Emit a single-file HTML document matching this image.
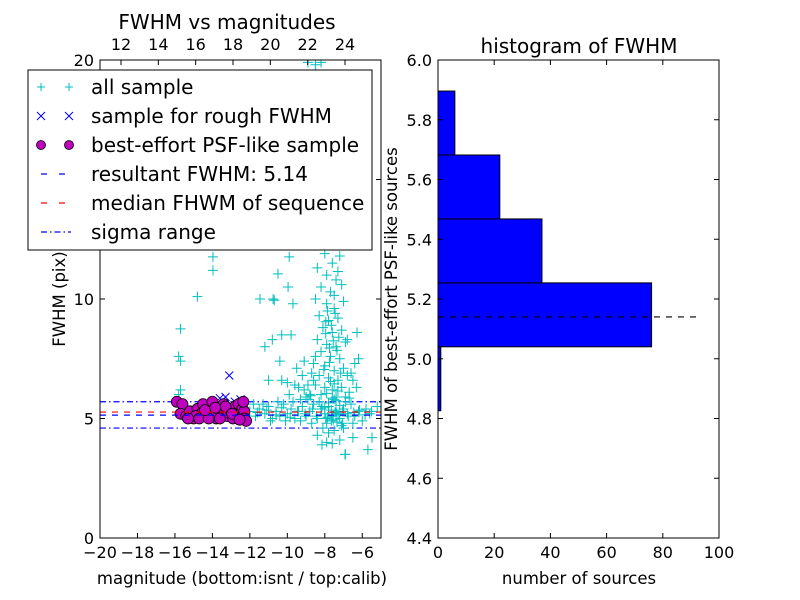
<!DOCTYPE html>
<html><head><meta charset="utf-8">
<style>
html,body{margin:0;padding:0;background:#fff;}
svg{display:block;font-family:"DejaVu Sans","Liberation Sans",sans-serif;}
</style></head>
<body>
<svg id="chart" width="800" height="600" viewBox="0 0 800 600" xmlns="http://www.w3.org/2000/svg">
<rect x="0" y="0" width="800" height="600" fill="#fff"/>
<g id="left"></g>
<g id="right"></g>
</svg>
<script>
// ---- scatter data ----
const cyanX = [-13.97,-13.97,-14.8,-15.7,-15.8,-15.7,-15.7,-15.8,
 -11.46,-10.76,-10.7,-9.9,-10.5,-9.96,-9.7,-11.2,-10.8,-10.3,-9.8,-11.0,-10.4,-10.3,-10.0,-6.28,-6.2,-6.8,-6.3,-5.48,-5.7,-6.92,-5.2,
 -8.0,-7.6,-7.2,-8.4,-7.9,-7.4,-8.2,-7.7,-7.1,-8.5,-7.9,-7.5,-7.0,-8.3,-7.8,-7.3,-8.1,-7.6,-7.1,-8.4,-7.9,-7.4,-6.9,-8.2,-7.7,-7.2,-8.6,-8.0,-7.5,-7.0,-8.3,-7.8,-7.3,-6.8,-8.5,-8.0,-7.6,-7.1,-6.7,-8.2,-7.4,-6.9,
 -8.1,-7.5,-7.0,-8.4,-7.8,-7.2,-8.15,-7.6,-6.9,-6.5,-7.9,
 -12.0,-11.7,-11.5,-11.2,-11.0,-10.8,-10.6,-10.4,-10.2,-10.0,-9.8,-9.6,-9.4,-9.2,-9.0,-8.8,-8.6,-8.4,-8.2,-8.0,-7.8,-7.6,-7.4,-7.2,-7.0,-6.8,-6.6,-6.4,-6.2,-6.0,-5.8,-5.6,-11.3,-10.9,-10.1,-9.3,-8.7,-7.9,-7.1,-6.5,-9.7,-8.9,-7.5,-12.2,-11.8,-10.5,-9.9,-9.1,-8.3,
 -8.9,-8.5,-8.2,
 -7.85,-7.45,-7.65,-7.25,-7.95,-7.55,-7.35,-7.75,-8.05,-7.15,-7.7,-7.5,-7.3,-7.9,-7.6,-7.4,-7.8,-7.2,-8.0,-7.65,-7.45,-7.25,-7.85,-7.55,-7.35,-7.05,-7.75,-7.95,-7.5,-7.3,
 -8.7,-8.9,-9.2,-9.5,-8.8,-9.0,-9.4,-8.6,-9.1,-9.3,-8.5,-8.75,-9.6,-6.6,-6.4,-6.7,-6.5,-6.9,
 -11.6,-11.1,-10.6,-10.3,-9.85,-9.45,-9.05,-8.65,-8.45,-8.15,-7.95,-7.65,-7.35,-7.05,-6.75,-6.45,-6.15,-5.85,-5.5];
const cyanY = [11.76,11.2,10.1,8.75,7.6,7.4,6.2,6.0,
 10.0,10.0,9.95,11.76,11.05,10.5,9.8,8.0,8.3,8.5,8.5,6.6,7.4,6.6,6.5,8.6,7.5,8.3,6.3,4.2,3.7,3.5,5.5,
 11.9,11.5,11.8,11.3,11.0,10.8,10.5,10.3,10.6,10.0,9.8,9.6,9.9,9.3,9.1,9.2,8.8,8.6,8.7,8.3,8.1,8.0,8.2,7.8,7.6,7.5,7.3,7.2,7.0,7.1,6.8,6.7,6.6,6.8,6.4,6.3,6.2,6.3,6.1,6.0,5.9,5.9,
 4.6,4.5,4.6,4.3,4.4,4.1,3.9,3.95,3.5,4.2,4.0,
 5.3,5.1,5.4,5.2,5.5,5.0,5.3,5.1,5.6,5.2,5.4,5.0,5.3,5.5,5.1,5.3,5.6,5.0,5.4,5.2,5.5,5.1,5.3,5.0,5.4,5.2,5.6,5.1,5.3,4.9,5.4,5.2,5.6,4.9,4.9,4.9,4.8,4.8,4.7,4.8,5.7,5.8,5.8,5.0,5.6,5.7,6.0,6.2,5.7,
 19.9,19.8,19.9,
 9.5,9.4,8.9,8.4,8.55,8.25,7.85,7.35,7.05,6.9,6.55,6.45,6.15,6.05,5.85,5.75,5.65,5.55,5.45,5.35,5.25,5.15,5.05,4.95,4.85,4.8,7.95,9.05,10.15,11.15,
 6.9,6.4,6.8,7.1,6.0,5.9,6.3,6.6,7.4,5.8,7.6,5.95,6.4,6.9,7.3,5.85,6.6,5.7,
 5.25,5.35,5.15,5.45,5.05,5.3,5.2,5.4,5.1,5.5,5.0,4.9,5.2,5.3,5.1,5.25,5.35,5.15,5.3];
const roughX = [-13.1,-13.6,-13.3,-12.5,-12.8];
const roughY = [6.8,5.85,5.9,5.8,5.7];
const bestX = [-15.9,-15.6,-15.7,-15.4,-15.2,-15.0,-14.8,-14.6,-14.5,-14.3,-14.1,-14.0,-13.8,-13.7,-13.5,-13.4,-13.2,-13.1,-13.0,-12.9,-12.8,-12.7,-12.6,-12.5,-12.4,-12.3,-12.3,-12.35,-14.9,-13.9,-13.3,-12.2,-15.3,-14.7,-14.2,-13.6,-12.95,-12.55,-13.85,-14.4];
const bestY = [5.7,5.6,5.2,5.1,5.3,5.0,5.4,5.2,5.6,5.1,5.3,5.7,5.0,5.4,5.2,5.6,5.1,5.4,5.3,5.0,5.5,5.2,5.6,5.1,5.4,5.3,5.0,5.7,5.1,5.2,5.5,4.9,5.0,5.0,5.0,5.0,5.2,4.95,5.45,5.35];
const resultFWHM = 5.14;
const medianFWHM = 5.27;
const sigmaRange = [4.6, 5.7];
const xTicks = [-20,-18,-16,-14,-12,-10,-8,-6];
const yTicks = [0,5,10,15,20];
const topTicks = [12,14,16,18,20,22,24];
// ---- histogram data ----
const binEdges = [4.826,5.04,5.254,5.468,5.682,5.896];
const binCounts = [1,76,37,22,6];
const histXTicks = [0,20,40,60,80,100];
const histYTicks = [4.4,4.6,4.8,5.0,5.2,5.4,5.6,5.8,6.0];

const NS = "http://www.w3.org/2000/svg";
function mk(parent, tag, attrs){const e=document.createElementNS(NS,tag);for(const k in attrs)e.setAttribute(k,attrs[k]);parent.appendChild(e);return e;}
function txt(parent, x, y, s, size, anchor, extra){const t=mk(parent,'text',Object.assign({x:x,y:y,'font-size':size,'text-anchor':anchor||'middle',fill:'#000'},extra||{}));t.textContent=s;return t;}

const TK=16, AX=16.5, TT=20, LF=20;
const L={x0:100,x1:381,y0:60,y1:538};
const sx=v=>L.x0+(v-(-20))/15*(L.x1-L.x0);
const sy=v=>L.y1-(v/20)*(L.y1-L.y0);
const stop=v=>121+(v-12)*(345-121)/12;
const left=document.getElementById('left');
const clipL=mk(left,'clipPath',{id:'clipL'});mk(clipL,'rect',{x:L.x0,y:L.y0,width:L.x1-L.x0,height:L.y1-L.y0});
const plot=mk(left,'g',{'clip-path':'url(#clipL)'});


function hline(v,color,dash,name){const l=mk(plot,'line',{x1:L.x0,x2:L.x1,y1:sy(v),y2:sy(v),stroke:color,'stroke-width':1.2,'stroke-dasharray':dash});}
hline(sigmaRange[0],'#0000ff','6,3,1.5,3','sigma-low-line');
hline(sigmaRange[1],'#0000ff','6,3,1.5,3','sigma-high-line');
for(let i=0;i<cyanX.length;i++){const x=sx(cyanX[i]),y=sy(cyanY[i]);const p=mk(plot,'path',{d:`M${x-5} ${y}H${x+5}M${x} ${y-5}V${y+5}`,stroke:'#00bfbf','stroke-width':1});}
for(let i=0;i<roughX.length;i++){const x=sx(roughX[i]),y=sy(roughY[i]);const p=mk(plot,'path',{d:`M${x-4} ${y-4}L${x+4} ${y+4}M${x-4} ${y+4}L${x+4} ${y-4}`,stroke:'#0000ff','stroke-width':1});}
for(let i=0;i<bestX.length;i++){const c=mk(plot,'circle',{cx:sx(bestX[i]),cy:sy(bestY[i]),r:5.5,fill:'#bf00bf',stroke:'#000','stroke-width':0.8});}
hline(medianFWHM,'#ff0000','6,6','median-fwhm-line');
hline(resultFWHM,'#0000ff','6,6','resultant-fwhm-line');
const fr=mk(left,'rect',{x:L.x0,y:L.y0,width:L.x1-L.x0,height:L.y1-L.y0,fill:'none',stroke:'#000','stroke-width':1});

xTicks.forEach(v=>{const x=sx(v);mk(left,'line',{x1:x,x2:x,y1:L.y1,y2:L.y1-5,stroke:'#000'});const t=txt(left,x,L.y1+20,(v<0?'\u2212':'')+Math.abs(v),TK);});
topTicks.forEach(v=>{const x=stop(v);mk(left,'line',{x1:x,x2:x,y1:L.y0,y2:L.y0+5,stroke:'#000'});const t=txt(left,x,L.y0-10,String(v),TK);});
yTicks.forEach(v=>{const y=sy(v);mk(left,'line',{x1:L.x0,x2:L.x0+5,y1:y,y2:y,stroke:'#000'});mk(left,'line',{x1:L.x1,x2:L.x1-5,y1:y,y2:y,stroke:'#000'});const t=txt(left,L.x0-6,y+6,String(v),TK,'end');});
const tl=txt(left,227,29,'FWHM vs magnitudes',TT);
const xl=txt(left,242,584,'magnitude (bottom:isnt / top:calib)',AX);
const yl=txt(left,0,0,'FWHM (pix)',AX,'middle',{transform:'translate(65,299) rotate(-90)'});
const lg=mk(left,'g',{});

mk(lg,'rect',{x:28,y:70,width:344,height:180,fill:'#fff',stroke:'#000','stroke-width':1});
const entries=['all sample','sample for rough FWHM','best-effort PSF-like sample','resultant FWHM: 5.14','median FHWM of sequence','sigma range'];
entries.forEach((s,i)=>{const y=87+i*29;const g=mk(lg,'g',{});
 [41,69].forEach(x=>{if(i===0)mk(g,'path',{d:`M${x-4} ${y}H${x+4}M${x} ${y-4}V${y+4}`,stroke:'#00bfbf'});
  if(i===1)mk(g,'path',{d:`M${x-4} ${y-4}L${x+4} ${y+4}M${x-4} ${y+4}L${x+4} ${y-4}`,stroke:'#0000ff'});
  if(i===2)mk(g,'circle',{cx:x,cy:y,r:4.5,fill:'#bf00bf',stroke:'#000','stroke-width':0.8});});
 if(i===3)mk(g,'line',{x1:41,x2:71,y1:y,y2:y,stroke:'#0000ff','stroke-dasharray':'6,12','stroke-width':1.2});
 if(i===4)mk(g,'line',{x1:41,x2:71,y1:y,y2:y,stroke:'#ff0000','stroke-dasharray':'6,12','stroke-width':1.2});
 if(i===5)mk(g,'line',{x1:41,x2:71,y1:y,y2:y,stroke:'#0000ff','stroke-dasharray':'6,3,1.5,3','stroke-width':1.2});
 txt(g,91,y+7,s,LF,'start');});

const R={x0:438,x1:719,y0:60,y1:538};
const hx=v=>R.x0+v/100*(R.x1-R.x0);
const hy=v=>R.y1-(v-4.4)/1.6*(R.y1-R.y0);
const right=document.getElementById('right');
for(let i=0;i<binCounts.length;i++){const y0=hy(binEdges[i+1]),y1=hy(binEdges[i]);const b=mk(right,'rect',{x:R.x0,y:y0,width:hx(binCounts[i])-R.x0,height:y1-y0,fill:'#0000ff',stroke:'#000','stroke-width':1});}
const dl=mk(right,'line',{x1:R.x0,x2:hx(92),y1:hy(resultFWHM),y2:hy(resultFWHM),stroke:'#000','stroke-dasharray':'6,6','stroke-width':1.2});

const fr2=mk(right,'rect',{x:R.x0,y:R.y0,width:R.x1-R.x0,height:R.y1-R.y0,fill:'none',stroke:'#000'});

histXTicks.forEach(v=>{const x=hx(v);mk(right,'line',{x1:x,x2:x,y1:R.y1,y2:R.y1-5,stroke:'#000'});mk(right,'line',{x1:x,x2:x,y1:R.y0,y2:R.y0+5,stroke:'#000'});const t=txt(right,x,R.y1+20,String(v),TK);});
histYTicks.forEach(v=>{const y=hy(v);mk(right,'line',{x1:R.x0,x2:R.x0+5,y1:y,y2:y,stroke:'#000'});mk(right,'line',{x1:R.x1,x2:R.x1-5,y1:y,y2:y,stroke:'#000'});const t=txt(right,R.x0-6,y+6,v.toFixed(1),TK,'end');});
const t2=txt(right,579,53,'histogram of FWHM',TT);
const x2=txt(right,579,584,'number of sources',AX);
const y2=txt(right,0,0,'FWHM of best-effort PSF-like sources',AX,'middle',{transform:'translate(397,299) rotate(-90)'});
</script>
</body></html>
